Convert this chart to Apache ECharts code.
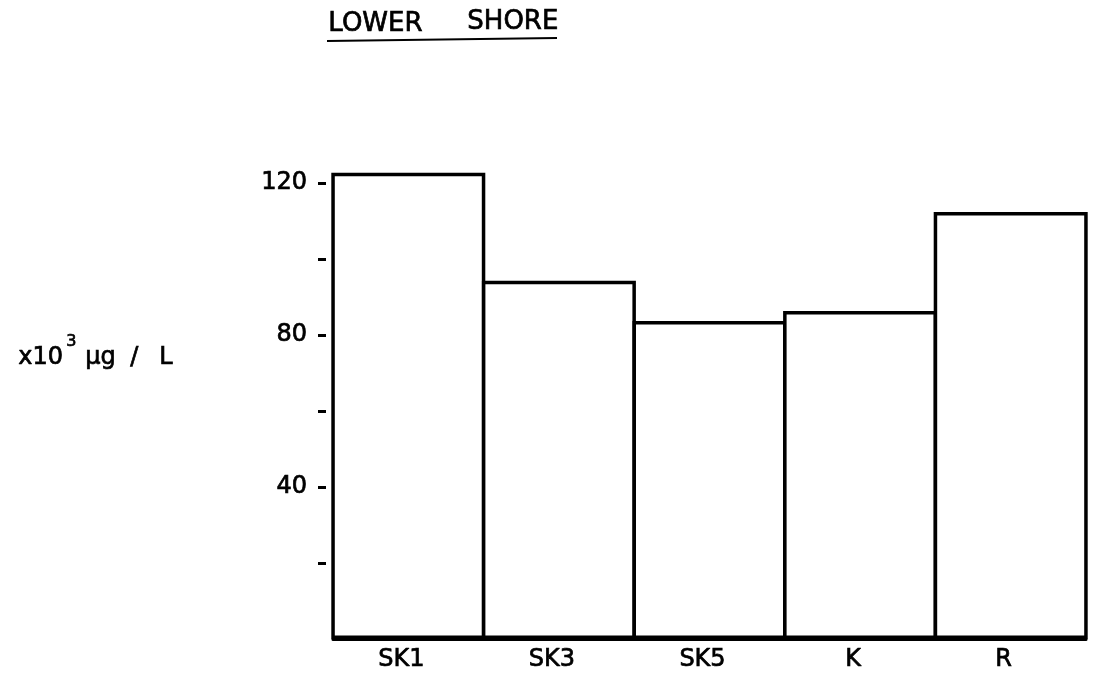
<!DOCTYPE html>
<html>
<head>
<meta charset="utf-8">
<script src="https://cdn.jsdelivr.net/npm/echarts@6/dist/echarts.min.js"></script>
<style>html,body{margin:0;padding:0;background:#fff}#c{width:1096px;height:677px}</style>
</head>
<body>
<div id="c"></div>
<script>
const categories = ['SK1', 'SK3', 'SK5', 'K', 'R'];
const values = [122.7, 94.3, 83.7, 86.3, 112.4];
const tickValues = [20, 40, 60, 80, 100, 120];
const labelValues = [40, 80, 120];

const FONT = '"DejaVu Sans", "Liberation Sans", sans-serif';
const TB = { stroke: '#000', lineWidth: 0.7 };
function txt(left, top, text, size) {
  return { type: 'text', left: left, top: top,
    style: { text: text, font: size + 'px ' + FONT, fill: '#000', stroke: '#000', lineWidth: 0.7 } };
}
const chart = echarts.init(document.getElementById('c'));
chart.setOption({
  backgroundColor: '#fff',
  animation: false,
  grid: { left: 333, right: 10, top: 145, bottom: 38, containLabel: false },
  xAxis: {
    type: 'category',
    data: categories,
    axisLine: { show: true, lineStyle: { color: '#000', width: 3 } },
    axisTick: { show: false },
    axisLabel: { color: '#000', fontSize: 24, fontFamily: FONT, margin: 9, padding: [0, 14, 0, 0],
      textBorderColor: '#000', textBorderWidth: 0.7 }
  },
  yAxis: {
    type: 'value',
    min: 0, max: 130,
    offset: 7,
    splitLine: { show: false },
    axisLine: { show: false },
    axisTick: { show: true, length: 8, customValues: tickValues, lineStyle: { color: '#000', width: 3 } },
    axisLabel: { color: '#000', fontSize: 24, fontFamily: FONT, margin: 19, customValues: labelValues,
      padding: [0, 0, 24, 0], textBorderColor: '#000', textBorderWidth: 0.7 }
  },
  series: [{
    type: 'bar',
    data: values,
    barWidth: 154,
    itemStyle: { color: '#fff', borderColor: '#000', borderWidth: 3.5 }
  }],
  graphic: [
    txt(328, 11, 'LOWER', 26),
    txt(467, 9, 'SHORE', 26),
    { type: 'line', shape: { x1: 327, y1: 41, x2: 557, y2: 38 }, style: { stroke: '#000', lineWidth: 2 } },
    txt(18, 345, 'x10', 24),
    txt(66, 333, '3', 16),
    txt(85, 345, 'µg', 24),
    txt(130, 345, '/', 24),
    txt(159, 345, 'L', 24)
  ]
});
</script>
</body>
</html>
